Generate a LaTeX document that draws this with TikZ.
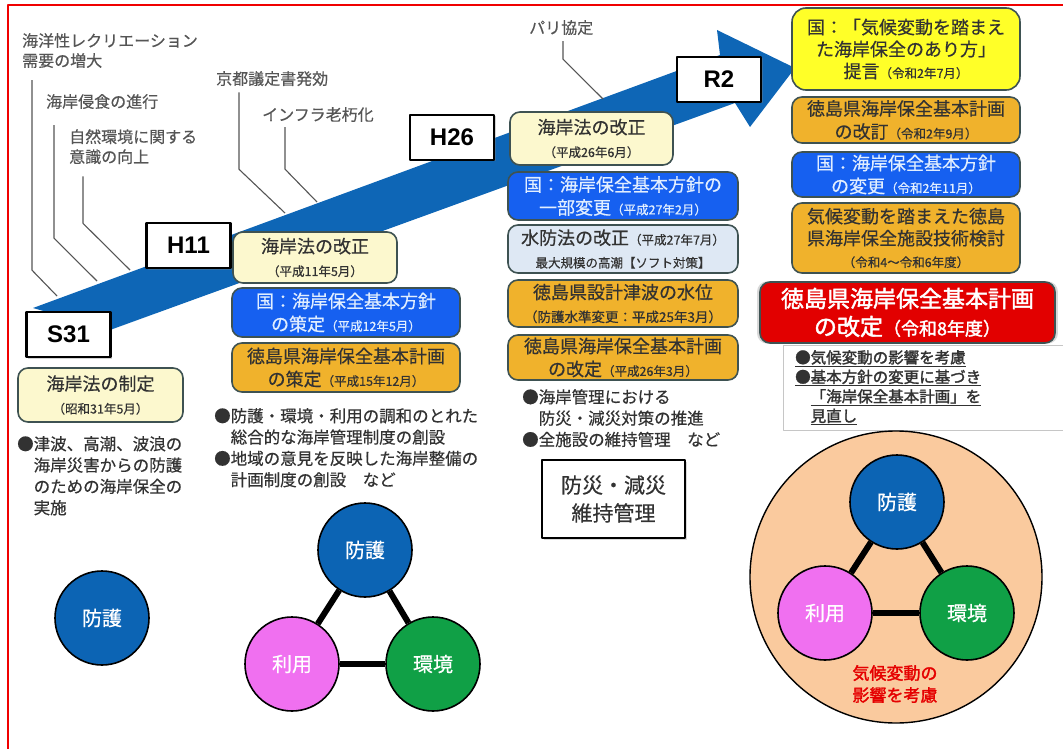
\documentclass[tikz,border=0pt]{standalone}
\usepackage{fontspec}
\newfontfamily\jp[FakeBold=0.5, AutoFakeBold=1.8]{Noto Sans CJK JP}
\newfontfamily\yr{Liberation Sans}
\usetikzlibrary{shadows}

\definecolor{arrowblue}{RGB}{14,102,182}
\definecolor{boxline}{RGB}{62,82,82}
\definecolor{creamfill}{RGB}{252,248,206}
\definecolor{govfill}{RGB}{22,96,240}
\definecolor{govtext}{RGB}{225,238,255}
\definecolor{preffill}{RGB}{240,178,44}
\definecolor{palefill}{RGB}{222,232,244}
\definecolor{yellowfill}{RGB}{255,255,40}
\definecolor{redfill}{RGB}{226,0,0}
\definecolor{peach}{RGB}{250,202,158}
\definecolor{protblue}{RGB}{12,100,180}
\definecolor{usemag}{RGB}{240,112,240}
\definecolor{envgreen}{RGB}{16,160,70}
\definecolor{labelgray}{RGB}{85,85,85}
\definecolor{textdark}{RGB}{50,50,50}
\definecolor{framered}{RGB}{240,0,0}

\newcommand{\datetxt}[1]{{\fontsize{12.5}{15}\selectfont #1}}
\newcommand{\bigline}{\fontsize{18}{23}\selectfont}

\begin{document}
\begin{tikzpicture}[x=1pt,y=-1pt,line join=round,
    yearbox/.style={draw, fill=white, line width=2.2pt, minimum width=84pt, minimum height=45pt,
        inner sep=0pt, font=\yr\bfseries\fontsize{24}{24}\selectfont,
        drop shadow={shadow xshift=1.5pt, shadow yshift=-1.5pt, opacity=.35}},
    event/.style={draw=boxline, line width=1.6pt, rounded corners=10pt, align=center,
        inner sep=0pt, text=textdark, font=\jp\bigline},
    creambox/.style={event, fill=creamfill},
    govbox/.style={event, fill=govfill, text=govtext},
    prefbox/.style={event, fill=preffill},
    palebox/.style={event, fill=palefill},
    trend/.style={anchor=north west, inner sep=0pt, align=left, text=labelgray,
        font=\jp\fontsize{16}{20}\selectfont},
    leader/.style={labelgray, line width=1.1pt},
    bullets/.style={anchor=north west, inner sep=0pt, align=left, text=textdark,
        font=\jp\fontsize{16.5}{21.3}\selectfont},
    pillar/.style={circle, draw=black, line width=1.6pt, minimum size=94pt, inner sep=0pt,
        text=white, font=\jp\fontsize{20}{20}\selectfont},
    tie/.style={line width=6pt}]

    \useasboundingbox (0,0) rectangle (1063,749);

    % red frame (only left and top edges show)
    \draw[framered, line width=1.5pt] (8,760) -- (8,5) -- (1075,5);

    % the big arrow
    \fill[arrowblue] (33,308) -- (720,55) -- (717,30) -- (795,68) -- (750,127)
        -- (735,103) -- (110,330) -- cycle;

    % trends and their leader lines
    \node[trend] (marine)  at (22,33)  {海洋性レクリエーション\\需要の増大};
    \node[trend] (erosion) at (46,94)  {海岸侵食の進行};
    \node[trend] (nature)  at (69,129) {自然環境に関する\\意識の向上};
    \node[trend] (kyoto)   at (216,71) {京都議定書発効};
    \node[trend] (infra)   at (262,107) {インフラ老朽化};
    \node[trend] (paris)   at (529,20) {パリ協定};

    \coordinate (marineEnd)  at (57,296);
    \coordinate (erosionEnd) at (97,281);
    \coordinate (natureEnd)  at (130,270);
    \coordinate (kyotoEnd)   at (285,213);
    \coordinate (infraEnd)   at (317,202);
    \coordinate (parisEnd)   at (603,99);

    \draw[leader] (marine.south west) ++(10,12) -- ++(0,190) -- (marineEnd);
    \draw[leader] (erosion.south west) ++(8,16) -- ++(0,113) -- (erosionEnd);
    \draw[leader] (nature.south west) ++(14,12) -- ++(0,47) -- (natureEnd);
    \draw[leader] (kyoto.south west) ++(23,6) -- ++(0,77) -- (kyotoEnd);
    \draw[leader] (infra.south west) ++(23,5) -- ++(0,42) -- (infraEnd);
    \draw[leader] (paris.south west) ++(34,6) -- ++(0,18) -- (parisEnd);

    % year boxes
    \node[yearbox] (s31) at (68.5,334.5) {S31};
    \node[yearbox] (h11) at (188.5,245.5) {H11};
    \node[yearbox] (h26) at (452,137.5) {H26};
    \node[yearbox] (r2)  at (719,79.5) {R2};

    % S31
    \node[creambox, minimum width=165pt, minimum height=54pt] (lawS31) at (100.5,395)
        {海岸法の制定\\\datetxt{（昭和31年5月）}};
    \node[bullets] (noteS31) at (17,436)
        {●津波、高潮、波浪の\\\phantom{●}海岸災害からの防護\\\phantom{●}のための海岸保全の\\\phantom{●}実施};

    % H11
    \node[creambox, minimum width=164pt, minimum height=51pt] (lawH11) at (315,257.5)
        {海岸法の改正\\\datetxt{（平成11年5月）}};
    \node[govbox, minimum width=228pt, minimum height=49pt] (govH12) at (346,312.5)
        {国：海岸保全基本方針\\の策定\datetxt{（平成12年5月）}};
    \node[prefbox, minimum width=228pt, minimum height=49pt] (prefH15) at (346,367.5)
        {徳島県海岸保全基本計画\\の策定\datetxt{（平成15年12月）}};
    \node[bullets] (noteH11) at (214,408)
        {●防護・環境・利用の調和のとれた\\\phantom{●}総合的な海岸管理制度の創設\\●地域の意見を反映した海岸整備の\\\phantom{●}計画制度の創設　など};

    % H26
    \node[creambox, minimum width=163pt, minimum height=53pt] (lawH26) at (591.5,138.5)
        {海岸法の改正\\\datetxt{（平成26年6月）}};
    \node[govbox, minimum width=230pt, minimum height=48pt] (govH27) at (623,196)
        {国：海岸保全基本方針の\\一部変更\datetxt{（平成27年2月）}};
    \node[palebox, minimum width=230pt, minimum height=48pt] (floodH27) at (623,249)
        {水防法の改正\datetxt{（平成27年7月）}\\\datetxt{最大規模の高潮【ソフト対策】}};
    \node[prefbox, minimum width=230pt, minimum height=47pt] (tsunamiH25) at (623,303.5)
        {徳島県設計津波の水位\\{\fontsize{13.5}{15}\selectfont （防護水準変更：平成25年3月）}};
    \node[prefbox, minimum width=230pt, minimum height=45pt] (prefH26) at (623,357.5)
        {徳島県海岸保全基本計画\\の改定\datetxt{（平成26年3月）}};
    \node[bullets] (noteH26) at (522,389)
        {●海岸管理における\\\phantom{●}防災・減災対策の推進\\●全施設の維持管理　など};
    \node[draw, fill=white, line width=2.3pt, minimum width=143pt, minimum height=78pt,
        align=center, inner sep=0pt, text=textdark, font=\jp\fontsize{21}{28}\selectfont,
        drop shadow={shadow xshift=1.5pt, shadow yshift=-1.5pt, opacity=.3}] (keep) at (613.5,499)
        {防災・減災\\維持管理};

    % R2
    \node[event, fill=yellowfill, rounded corners=14pt, minimum width=228pt, minimum height=82pt,
        font=\jp\fontsize{18}{22}\selectfont] (govR2a) at (906,49)
        {国：「気候変動を踏まえ\\た海岸保全のあり方」\\提言\datetxt{（令和2年7月）}};
    \node[prefbox, minimum width=228pt, minimum height=46pt] (prefR2) at (906,120)
        {徳島県海岸保全基本計画\\の改訂\datetxt{（令和2年9月）}};
    \node[govbox, minimum width=228pt, minimum height=45pt] (govR2b) at (906,174.5)
        {国：海岸保全基本方針\\の変更\datetxt{（令和2年11月）}};
    \node[prefbox, minimum width=228pt, minimum height=70pt, font=\jp\fontsize{18}{22}\selectfont]
        (studyR4) at (906,238)
        {気候変動を踏まえた徳島\\県海岸保全施設技術検討\\\datetxt{（令和4～令和6年度）}};
    \node[event, fill=redfill, text=white, minimum width=295pt, minimum height=61pt,
        font=\jp\bfseries\fontsize{23}{28}\selectfont,
        drop shadow={shadow xshift=0pt, shadow yshift=0pt, shadow scale=1.02, opacity=.3}]
        (prefR8) at (907.5,312.5)
        {徳島県海岸保全基本計画\\の改定{\fontsize{18}{20}\selectfont （令和8年度）}};
    \node[draw=gray!45, fill=white, anchor=north west, minimum width=290pt, minimum height=82pt,
        text width=266pt, inner xsep=12pt, inner ysep=5pt, align=left, text=textdark,
        font=\jp\bfseries\fontsize{15.5}{19.5}\selectfont] (noteR8) at (783,345)
        {\underline{●気候変動の影響を考慮}\\\underline{●基本方針の変更に基づき}\\
         \phantom{●}\underline{「海岸保全基本計画」を}\\\phantom{●}\underline{見直し}};

    % pillars: protection, use, environment
    \node[pillar, fill=protblue] (prot0) at (102,618) {防護};

    \node[pillar, fill=protblue] (prot1) at (365,550) {防護};
    \node[pillar, fill=usemag]   (use1)  at (292,664) {利用};
    \node[pillar, fill=envgreen] (env1)  at (433,664) {環境};
    \draw[tie] (prot1) -- (use1);
    \draw[tie] (prot1) -- (env1);
    \draw[tie] (use1) -- (env1);

    \node[circle, draw, line width=1.4pt, fill=peach, minimum size=292pt] (climate) at (896,577) {};
    \node[pillar, fill=protblue] (prot2) at (897,502) {防護};
    \node[pillar, fill=usemag]   (use2)  at (825,613) {利用};
    \node[pillar, fill=envgreen] (env2)  at (967,613) {環境};
    \draw[tie] (prot2) -- (use2);
    \draw[tie] (prot2) -- (env2);
    \draw[tie] (use2) -- (env2);
    \node[align=center, inner sep=0pt, text=red!90!black, font=\jp\bfseries\fontsize{17}{22}\selectfont]
        (impact) at (895,684) {気候変動の\\影響を考慮};
\end{tikzpicture}
\end{document}
